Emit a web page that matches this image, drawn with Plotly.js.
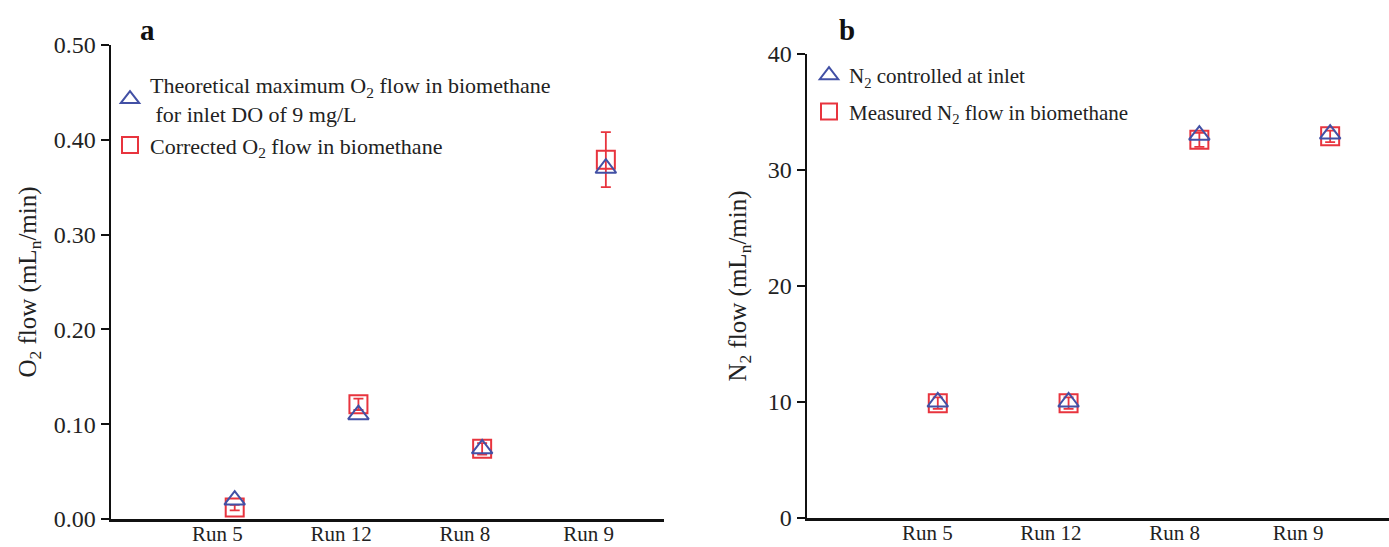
<!DOCTYPE html>
<html>
<head>
<meta charset="utf-8">
<script src="https://cdn.plot.ly/plotly-3.0.1.min.js"></script>
<style>html,body{margin:0;padding:0;background:#fff;}#chart{width:1389px;height:547px;}</style>
</head>
<body>
<div id="chart"></div>
<script>
// ---- data ----
const runs = ['Run 5', 'Run 12', 'Run 8', 'Run 9'];
const o2Theoretical = [0.020, 0.110, 0.074, 0.370];
const o2Corrected = [0.012, 0.121, 0.074, 0.379];
const o2CorrectedErr = [0.003, 0.006, 0.006, 0.029];
const n2Inlet = [10.0, 10.0, 33.0, 33.1];
const n2Measured = [9.9, 9.9, 32.6, 32.9];
const n2MeasuredErr = [0.5, 0.5, 0.6, 0.5];

// ---- layout helpers ----
const W = 1389, H = 547;
const px = v => v / W;
const py = v => (H - v) / H;
const xs = runs.map((_, i) => i + 1);
const BLUE = 'rgb(66,80,165)';
const RED = 'rgb(232,52,62)';
const FONT = 'Liberation Serif, Times New Roman, serif';

const sq = (x, y, err, axes, name, leg, grp) => ({
  type: 'scatter', mode: 'markers', x: x, y: y, xaxis: axes[0], yaxis: axes[1],
  name: name, legend: leg, legendrank: 2, legendgroup: grp,
  marker: {symbol: 'square-open', size: 18, color: RED, line: {width: 2, color: RED}},
  error_y: {type: 'data', array: err, visible: true, color: RED, thickness: 1.8, width: 5}
});
const tri = (x, y, axes, name, leg, grp) => ({
  type: 'scatter', mode: 'markers', x: x, y: y, xaxis: axes[0], yaxis: axes[1],
  name: name, legend: leg, legendrank: 1, legendgroup: grp,
  marker: {symbol: 'triangle-up-open', size: 18, color: BLUE, line: {width: 2, color: BLUE}}
});

const traces = [
  sq(xs, o2Corrected, o2CorrectedErr, ['x', 'y'], 'Corrected O<sub>2</sub> flow in biomethane', 'legend', 'a2'),
  tri(xs, o2Theoretical, ['x', 'y'], 'Theoretical maximum O<sub>2</sub> flow in biomethane<br> for inlet DO of 9 mg/L', 'legend', 'a1'),
  sq(xs, n2Measured, n2MeasuredErr, ['x2', 'y2'], 'Measured N<sub>2</sub> flow in biomethane', 'legend2', 'b2'),
  tri(xs, n2Inlet, ['x2', 'y2'], 'N<sub>2</sub> controlled at inlet', 'legend2', 'b1')
];

const leftLabelPos = runs.map((_, i) => i + 1 - 0.14);
const rightLabelPos = runs.map((_, i) => i + 1 - 0.08 - 0.055 * i);

const xBase = {
  showline: true, linecolor: '#111', linewidth: 2.5, ticks: '', showgrid: false,
  zeroline: false, tickfont: {family: FONT, size: 21, color: '#222'}, fixedrange: true,
  ticklabelstandoff: -6
};
const yBase = {
  showline: true, linecolor: '#111', linewidth: 2.5, ticks: 'outside', ticklen: 8,
  tickwidth: 2, tickcolor: '#111', showgrid: false, zeroline: false,
  tickfont: {family: FONT, size: 24, color: '#222'}, fixedrange: true
};

const layout = {
  width: W, height: H, margin: {l: 0, r: 0, t: 0, b: 0},
  paper_bgcolor: '#fff', plot_bgcolor: '#fff',
  font: {family: FONT, color: '#222'},
  xaxis: Object.assign({}, xBase, {domain: [px(111), px(664)], range: [0, 4.47],
    tickmode: 'array', tickvals: leftLabelPos, ticktext: runs, anchor: 'y'}),
  yaxis: Object.assign({}, yBase, {domain: [py(519), py(45)], range: [0, 0.5],
    tickmode: 'linear', tick0: 0, dtick: 0.1, tickformat: '.2f', anchor: 'x',
    title: {text: 'O<sub>2</sub> flow (mL<sub>n</sub>/min)', font: {family: FONT, size: 25, color: '#222'}, standoff: 10}}),
  xaxis2: Object.assign({}, xBase, {domain: [px(807), 1], range: [0, 4.45],
    tickmode: 'array', tickvals: rightLabelPos, ticktext: runs, anchor: 'y2'}),
  yaxis2: Object.assign({}, yBase, {domain: [py(518), py(54)], range: [0, 40],
    tickmode: 'linear', tick0: 0, dtick: 10, anchor: 'x2',
    title: {text: 'N<sub>2</sub> flow (mL<sub>n</sub>/min)', font: {family: FONT, size: 25, color: '#222'}, standoff: 14}}),
  showlegend: true,
  legend: {x: px(110), y: py(64), xanchor: 'left', yanchor: 'top', bgcolor: 'rgba(0,0,0,0)',
    font: {family: FONT, size: 22, color: '#222'}, itemsizing: 'trace',
    traceorder: 'grouped', tracegroupgap: 0},
  legend2: {x: px(809), y: py(55), xanchor: 'left', yanchor: 'top', bgcolor: 'rgba(0,0,0,0)',
    font: {family: FONT, size: 21, color: '#222'}, itemsizing: 'trace',
    traceorder: 'grouped', tracegroupgap: 6},
  annotations: [
    {text: '<b>a</b>', xref: 'paper', yref: 'paper', x: px(147), y: py(30), showarrow: false,
     font: {family: FONT, size: 29, color: '#111'}, xanchor: 'center', yanchor: 'middle'},
    {text: '<b>b</b>', xref: 'paper', yref: 'paper', x: px(847), y: py(30), showarrow: false,
     font: {family: FONT, size: 29, color: '#111'}, xanchor: 'center', yanchor: 'middle'}
  ]
};

Plotly.newPlot('chart', traces, layout, {displayModeBar: false, staticPlot: true});
</script>
</body>
</html>
